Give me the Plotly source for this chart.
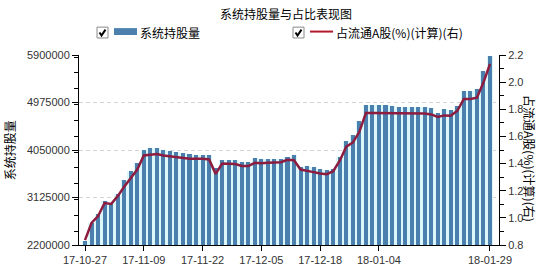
import plotly.graph_objects as go

# ---------------- data ----------------
dates = [
    "17-10-27", "17-10-30", "17-10-31", "17-11-01", "17-11-02", "17-11-03", "17-11-06", "17-11-07", "17-11-08",
    "17-11-09", "17-11-10", "17-11-13", "17-11-14", "17-11-15", "17-11-16", "17-11-17", "17-11-20", "17-11-21",
    "17-11-22", "17-11-23", "17-11-24", "17-11-27", "17-11-28", "17-11-29", "17-11-30", "17-12-01", "17-12-04",
    "17-12-05", "17-12-06", "17-12-07", "17-12-08", "17-12-11", "17-12-12", "17-12-13", "17-12-14", "17-12-15",
    "17-12-18", "17-12-19", "17-12-20", "17-12-21", "17-12-22", "17-12-26", "17-12-27", "17-12-28", "17-12-29",
    "18-01-04", "18-01-05", "18-01-08", "18-01-09", "18-01-10", "18-01-11", "18-01-12", "18-01-15", "18-01-16",
    "18-01-17", "18-01-18", "18-01-19", "18-01-22", "18-01-23", "18-01-24", "18-01-25", "18-01-26", "18-01-29",
]

holdings = [
    2280000, 2630000, 2800000, 3050000, 3015000, 3190000, 3460000, 3645000, 3805000,
    4056000, 4080000, 4080000, 4050000, 4040000, 4010000, 4000000, 3980000, 3950000,
    3950000, 3950000, 3695000, 3857000, 3857000, 3857000, 3825000, 3825000, 3896000,
    3880000, 3880000, 3880000, 3880000, 3920000, 3946000, 3720000, 3747000, 3710000,
    3676000, 3670000, 3676000, 3920000, 4235000, 4340000, 4610000, 4920000, 4920000,
    4920000, 4920000, 4900000, 4880000, 4880000, 4880000, 4880000, 4880000, 4860000,
    4780000, 4840000, 4820000, 4900000, 5190000, 5190000, 5230000, 5580000, 5890000,
]

pct = [
    0.836, 0.962, 1.013, 1.109, 1.102, 1.160, 1.230, 1.295, 1.356,
    1.460, 1.465, 1.470, 1.460, 1.455, 1.446, 1.440, 1.436, 1.436,
    1.436, 1.430, 1.324, 1.400, 1.400, 1.397, 1.382, 1.382, 1.406,
    1.402, 1.406, 1.406, 1.410, 1.428, 1.424, 1.356, 1.349, 1.337,
    1.327, 1.322, 1.344, 1.421, 1.525, 1.554, 1.634, 1.772, 1.772,
    1.772, 1.772, 1.767, 1.769, 1.769, 1.769, 1.769, 1.769, 1.762,
    1.743, 1.755, 1.752, 1.789, 1.876, 1.876, 1.885, 1.997, 2.135,
]

x_tick_labels = ["17-10-27", "17-11-09", "17-11-22", "17-12-05", "17-12-18", "18-01-04", "18-01-29"]

title_text = "系统持股量与占比表现图"
bar_name = "系统持股量"
line_name = "占流通A股(%)(计算)(右)"

# ---------------- layout helpers ----------------
W, H = 541, 278
PL, PR, PT, PB = 79, 499, 55.3, 248.3


def px(x):
    return (x - PL) / (PR - PL)


def py(y):
    return (PB - y) / (PB - PT)


BAR_BLUE = "#4a7fae"
GAP_CYAN = "#dcf7f9"
LINE_RED = "#8e1c3e"
TICK_FONT = dict(family="Liberation Sans, Arial, sans-serif", size=11, color="#333333")
CJK = "Noto Sans CJK SC, sans-serif"

fig = go.Figure()

fig.add_trace(go.Bar(x=dates, y=holdings, width=1.0, marker=dict(color=GAP_CYAN, line=dict(width=0)),
                     yaxis="y", showlegend=False, hoverinfo="skip"))
fig.add_trace(go.Bar(x=dates, y=holdings, width=0.62, marker=dict(color=BAR_BLUE, line=dict(width=0)),
                     yaxis="y", name=bar_name, showlegend=False))
fig.add_trace(go.Scatter(x=dates, y=pct, mode="lines", line=dict(color=LINE_RED, width=2.5),
                         yaxis="y2", name=line_name, showlegend=False))

shapes = []
annotations = []

# title
annotations.append(dict(x=px(286), y=py(13), xref="paper", yref="paper", text=title_text,
                        showarrow=False, font=dict(family=CJK, size=12, color="#000"),
                        xanchor="center", yanchor="middle"))


def checkbox(x0, y0):
    shapes.append(dict(type="rect", xref="paper", yref="paper",
                       x0=px(x0), x1=px(x0 + 11), y0=py(y0), y1=py(y0 + 11),
                       line=dict(color="#8a8a8a", width=1), fillcolor="#ffffff"))
    path = "M {} {} L {} {} L {} {}".format(px(x0 + 2.5), py(y0 + 5.5), px(x0 + 4.5), py(y0 + 8.5),
                                            px(x0 + 8.5), py(y0 + 2.5))
    shapes.append(dict(type="path", xref="paper", yref="paper", path=path,
                       line=dict(color="#000000", width=2)))


checkbox(97, 27)
shapes.append(dict(type="rect", xref="paper", yref="paper", x0=px(114), x1=px(137), y0=py(28), y1=py(35),
                   line=dict(width=0), fillcolor=BAR_BLUE))
annotations.append(dict(x=px(138), y=py(32), xref="paper", yref="paper", text=bar_name, showarrow=False,
                        font=dict(family=CJK, size=12, color="#000"), xanchor="left", yanchor="middle"))
checkbox(293, 27)
shapes.append(dict(type="line", xref="paper", yref="paper", x0=px(310), x1=px(333), y0=py(31.5), y1=py(31.5),
                   line=dict(color="#b3182e", width=2)))
annotations.append(dict(x=px(334), y=py(32), xref="paper", yref="paper", text=line_name, showarrow=False,
                        font=dict(family=CJK, size=12, color="#000"), xanchor="left", yanchor="middle"))

# axis titles
annotations.append(dict(x=px(9), y=py(152), xref="paper", yref="paper", text=bar_name, showarrow=False,
                        textangle=-90, font=dict(family=CJK, size=12, color="#000"),
                        xanchor="center", yanchor="middle"))
annotations.append(dict(x=px(530), y=py(160), xref="paper", yref="paper", text=line_name, showarrow=False,
                        textangle=90, font=dict(family=CJK, size=12, color="#000"),
                        xanchor="center", yanchor="middle"))

fig.update_layout(
    width=W, height=H,
    margin=dict(l=PL, r=W - PR, t=PT, b=H - PB, pad=0),
    paper_bgcolor="#ffffff", plot_bgcolor="#ffffff",
    barmode="overlay", bargap=0,
    showlegend=False,
    shapes=shapes, annotations=annotations,
    xaxis=dict(type="category", range=[-0.92, 63.38], tickmode="array",
               tickvals=x_tick_labels, ticktext=x_tick_labels,
               showline=True, linecolor="#000", linewidth=1, ticks="outside", ticklen=5,
               tickcolor="#000", showgrid=False, tickfont=TICK_FONT, tickangle=0, zeroline=False),
    yaxis=dict(range=[2200000, 5900000], tick0=2200000, dtick=925000, tickformat="d",
               showline=True, linecolor="#000", linewidth=1, ticks="outside", ticklen=6, tickcolor="#000",
               showgrid=True, gridcolor="#d4d4d4", griddash="4px,3px", gridwidth=1, zeroline=False,
               tickfont=TICK_FONT,
               minor=dict(dtick=925000 / 3, ticks="outside", ticklen=4, tickcolor="#000", showgrid=False)),
    yaxis2=dict(range=[0.8, 2.2], tick0=0.8, dtick=0.2, tickformat=".1f", overlaying="y", side="right",
                showline=True, linecolor="#000", linewidth=1, ticks="outside", ticklen=6, tickcolor="#000",
                showgrid=False, zeroline=False, tickfont=TICK_FONT,
                minor=dict(dtick=0.1, ticks="outside", ticklen=4, tickcolor="#000", showgrid=False)),
)

fig.write_html("out.html")
